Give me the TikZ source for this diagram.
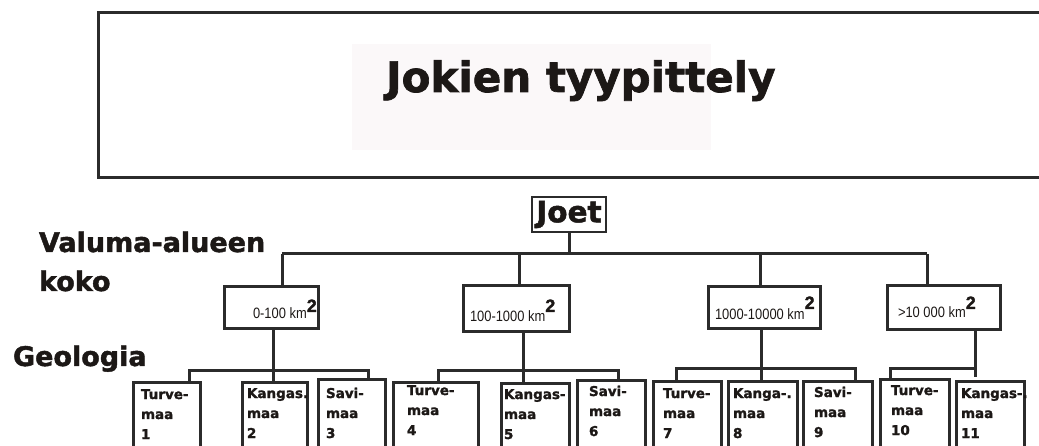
\documentclass[tikz,border=0pt]{standalone}
\usepackage{fontspec}
\setmainfont{DejaVu Sans}[BoldFeatures={FakeBold=1.6}]
\newfontfamily\narrowfont[FakeStretch=0.86]{Liberation Sans}
\newfontfamily\supfont[FakeBold=1.5]{Liberation Sans Bold}
\definecolor{ink}{HTML}{1C1816}
\definecolor{linec}{HTML}{2B2B2B}
\definecolor{titlebg}{HTML}{FBF8F9}
\newcommand{\kmtxt}[2]{{\narrowfont\fontsize{15}{15}\selectfont #1}\raisebox{#2}{\supfont\fontsize{18}{18}\selectfont 2}}
\newcommand{\threel}[3]{\vtop{\bfseries\fontsize{13.5}{20}\selectfont\baselineskip=20pt\hbox{#1}\hbox{#2}\hbox{#3}}}
\begin{document}
\begin{tikzpicture}[x=1pt,y=-1pt,
  conn/.style={draw=linec, line width=3pt},
  bigbox/.style={draw=linec, line width=3pt, inner sep=0pt, outer sep=0pt},
  gbox/.style={draw=linec, line width=3pt, anchor=north west, minimum height=90pt, inner sep=0pt, outer sep=0pt},
  lbl/.style={anchor=base west, inner sep=0pt, outer sep=0pt, text=ink},
  biglbl/.style={lbl, font=\bfseries\fontsize{27}{30}\selectfont},
  grp/.style={lbl}
]
\useasboundingbox (0,0) rectangle (1039,446);

% title
\node[draw=linec, line width=3pt, anchor=north west, minimum width=965pt, minimum height=165pt, inner sep=0pt] (titlebox) at (97,11) {};
\node[fill=titlebg, anchor=north west, minimum width=359pt, minimum height=106pt, inner sep=0pt] (titlebg) at (352,44) {};
\node[lbl, font=\bfseries\fontsize{42}{50}\selectfont] (title) at (386,92) {Jokien tyypittely};

% left labels
\node[biglbl] (val1) at (39,252) {Valuma-alueen};
\node[biglbl] (val2) at (39,291) {koko};
\node[biglbl] (geo) at (13,366) {Geologia};

% root
\node[draw=linec, line width=2.5pt, minimum width=74pt, minimum height=35pt, inner sep=0pt, text=ink, font=\bfseries\fontsize{29.5}{32}\selectfont] (joet) at (569,214.5) {Joet};

% level 1 boxes
\node[bigbox, minimum width=94pt, minimum height=42pt] (k1) at (271,308) {};
\node[bigbox, minimum width=106pt, minimum height=46pt] (k2) at (516,309) {};
\node[bigbox, minimum width=112pt, minimum height=42pt] (k3) at (764,308) {};
\node[bigbox, minimum width=113pt, minimum height=44pt] (k4) at (943.5,308) {};
\node[lbl] (k1t) at (253,319) {\kmtxt{0-100 km}{7pt}};
\node[lbl] (k2t) at (470,322) {\kmtxt{100-1000 km}{10pt}};
\node[lbl] (k3t) at (715,320) {\kmtxt{1000-10000 km}{11pt}};
\node[lbl] (k4t) at (898,318) {\kmtxt{>10 000 km}{9pt}};

% level 2 boxes
\node[gbox, minimum width=67pt] (g1) at (133,382) {};
\node[gbox, minimum width=65pt] (g2) at (242,382) {};
\node[gbox, minimum width=67pt] (g3) at (318,379) {};
\node[gbox, minimum width=85pt] (g4) at (393,382) {};
\node[gbox, minimum width=68pt] (g5) at (501,383) {};
\node[gbox, minimum width=68pt] (g6) at (577,380) {};
\node[gbox, minimum width=68pt] (g7) at (653,381) {};
\node[gbox, minimum width=69pt] (g8) at (728,381) {};
\node[gbox, minimum width=69pt] (g9) at (803,381) {};
\node[gbox, minimum width=69pt] (g10) at (880,379) {};
\node[gbox, minimum width=68pt] (g11) at (956,381) {};

\node[grp] (g1t) at (141,399) {\threel{Turve-}{maa}{1}};
\node[grp] (g2t) at (247,398) {\threel{Kangas.}{maa}{2}};
\node[grp] (g3t) at (326,398) {\threel{Savi-}{maa}{3}};
\node[grp] (g4t) at (407,395) {\threel{Turve-}{maa}{4}};
\node[grp] (g5t) at (504,399) {\threel{Kangas-}{maa}{5}};
\node[grp] (g6t) at (589,396) {\threel{Savi-}{maa}{6}};
\node[grp] (g7t) at (663,398) {\threel{Turve-}{maa}{7}};
\node[grp] (g8t) at (733,398) {\threel{Kanga-.}{maa}{8}};
\node[grp] (g9t) at (814,397) {\threel{Savi-}{maa}{9}};
\node[grp] (g10t) at (891,395) {\threel{Turve-}{maa}{10}};
\node[grp] (g11t) at (961,398) {\threel{Kangas-.}{maa}{11}};

% connectors level 0 -> 1
\coordinate (busL) at (282,254);
\coordinate (busR) at (927,254);
\draw[conn] (busL) -- (busR);
\draw[conn] (joet.south) -- (joet.south |- busL);
\draw[conn] ([xshift=11pt]k1.north) -- ([xshift=11pt]k1.north |- busL);
\draw[conn] ([xshift=3pt]k2.north) -- ([xshift=3pt]k2.north |- busL);
\draw[conn] ([xshift=-4pt]k3.north) -- ([xshift=-4pt]k3.north |- busL);
\draw[conn] ([xshift=-16.5pt]k4.north) -- ([xshift=-16.5pt]k4.north |- busL);

% connectors level 1 -> 2
\coordinate (b1) at (273,370);
\coordinate (b2) at (523.5,370);
\coordinate (b3) at (761,368);
\coordinate (b4) at (975,368);
\draw[conn] ([xshift=2pt]k1.south) -- (b1);
\draw[conn] ([xshift=22.5pt]g1.north) |- (b1) -| ([xshift=16.5pt]g3.north);
\draw[conn] (b1) -- (b1 |- g2.north);
\draw[conn] ([xshift=7.5pt]k2.south) -- (b2);
\draw[conn] ([xshift=2.5pt]g4.north) |- (b2) -| ([xshift=7pt]g6.north);
\draw[conn] (b2) -- (b2 |- g5.north);
\draw[conn] ([xshift=-3pt]k3.south) -- (b3);
\draw[conn] ([xshift=-11pt]g7.north) |- (b3) -| ([xshift=17.5pt]g9.north);
\draw[conn] (b3) -- (b3 |- g8.north);
\draw[conn] ([xshift=31.5pt]k4.south) -- (b4);
\draw[conn] ([xshift=-24.5pt]g10.north) |- (b4) -- ([yshift=4pt]b4 |- g11.north);
\end{tikzpicture}
\end{document}
